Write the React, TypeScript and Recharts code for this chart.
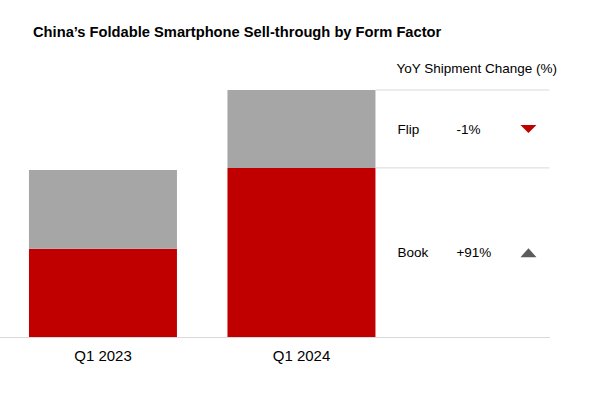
import React from 'react';
import { BarChart, Bar, XAxis, YAxis, LabelList } from 'recharts';

const quarters = ['Q1 2023', 'Q1 2024'];
const bookShipments = [88.8, 169.6];
const flipShipments = [78.7, 77.9];
const yoyHeader = 'YoY Shipment Change (%)';
const flipYoY = -1;
const bookYoY = 91;
const yAxisMax = 250;

const data = quarters.map((q, i) => ({ quarter: q, book: bookShipments[i], flip: flipShipments[i] }));

const FONT = '"Liberation Sans", Arial, Helvetica, sans-serif';
const RED = '#c00000';
const GRAY = '#a6a6a6';

const makeSidePanel = (name: string, change: number, header?: string) => (props: any) => {
  if (props.index !== data.length - 1) return null;
  const vb = props.viewBox || props;
  const x = Number(vb.x);
  const y = Number(vb.y);
  const w = Number(vb.width);
  const h = Number(vb.height);
  const left = x + w;
  const cy = y + h / 2;
  const up = change > 0;
  const tx = left + 145;
  const tri = up
    ? `${tx},${cy + 4.5} ${tx + 16},${cy + 4.5} ${tx + 8},${cy - 4.5}`
    : `${tx},${cy - 4} ${tx + 16},${cy - 4} ${tx + 8},${cy + 4}`;
  return (
    <g>
      <line x1={left} x2={left + 174} y1={y} y2={y} stroke="#d9d9d9" strokeWidth={1} />
      {header ? (
        <text x={left + 21} y={y - 17} fontSize={13.5} fill="#000" fontFamily={FONT}>
          {header}
        </text>
      ) : null}
      <text x={left + 22} y={cy} dy="0.35em" fontSize={13.5} fill="#000" fontFamily={FONT}>
        {name}
      </text>
      <text x={left + 81} y={cy} dy="0.35em" fontSize={13.5} fill="#000" fontFamily={FONT}>
        {(up ? '+' : '') + change + '%'}
      </text>
      <polygon points={tri} fill={up ? '#5a5e5a' : RED} />
    </g>
  );
};

export default function App() {
  return (
    <div style={{ position: 'absolute', left: 0, top: 0, width: 603, height: 398, background: '#fff', fontFamily: FONT }}>
      <div
        style={{
          position: 'absolute',
          left: 33,
          top: 24,
          fontSize: 14.7,
          lineHeight: '16px',
          fontWeight: 'bold',
          color: '#000',
          whiteSpace: 'nowrap',
        }}
      >
        China’s Foldable Smartphone Sell-through by Form Factor
      </div>
      <BarChart
        width={603}
        height={398}
        data={data}
        margin={{ top: 87.5, right: 53, bottom: 30.5, left: 0 }}
        barCategoryGap="12.7%"
      >
        <XAxis
          dataKey="quarter"
          padding={{ left: 3.75, right: 149.25 }}
          axisLine={{ stroke: '#d9d9d9' }}
          tickLine={false}
          tickSize={6}
          tickMargin={7}
          height={30}
          tick={{ fontSize: 15, fill: '#000', fontFamily: FONT }}
        />
        <YAxis hide domain={[0, yAxisMax]} />
        <Bar dataKey="book" stackId="a" fill={RED} isAnimationActive={false}>
          <LabelList dataKey="book" content={makeSidePanel('Book', bookYoY)} />
        </Bar>
        <Bar dataKey="flip" stackId="a" fill={GRAY} isAnimationActive={false}>
          <LabelList dataKey="flip" content={makeSidePanel('Flip', flipYoY, yoyHeader)} />
        </Bar>
      </BarChart>
    </div>
  );
}
